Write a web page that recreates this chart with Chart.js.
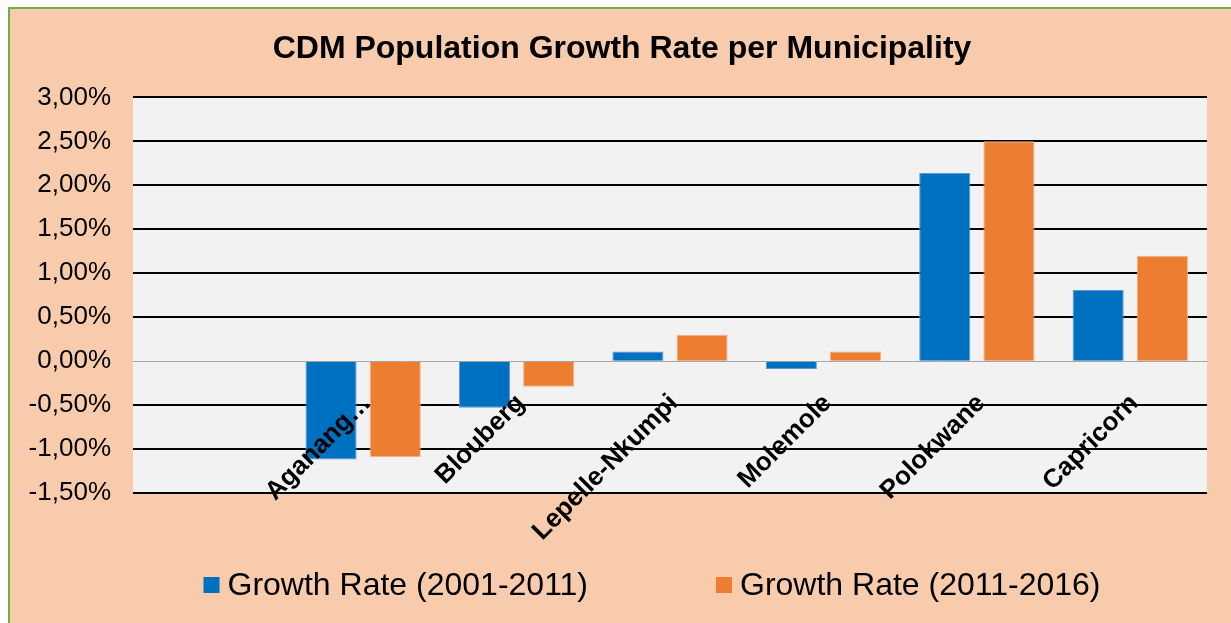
<!DOCTYPE html>
<html>
<head>
<meta charset="utf-8">
<title>CDM Population Growth Rate per Municipality</title>
<script src="https://cdn.jsdelivr.net/npm/chart.js@4.4.1/dist/chart.umd.min.js"></script>
<style>
  html, body { margin: 0; padding: 0; background: #fff; overflow: hidden; }
  #frame {
    position: absolute;
    left: 8px;
    top: 7px;
    width: 1240px;
    height: 630px;
    background: #F8CBAD;
    border-left: 2px solid #70AD47;
    border-top: 2px solid #70AD47;
  }
  #chart { display: block; }
</style>
</head>
<body>
<div id="frame">
  <canvas id="chart" width="1224" height="614"></canvas>
</div>
<script>
// first slot is left blank on purpose, the municipalities start one step in
const municipalities = ['', 'Aganang…', 'Blouberg', 'Lepelle-Nkumpi', 'Molemole', 'Polokwane', 'Capricorn'];
const growth2001to2011 = [null, -1.12, -0.53, 0.11, -0.09, 2.14, 0.81];
const growth2011to2016 = [null, -1.09, -0.29, 0.30, 0.11, 2.50, 1.20];
const seriesNames = ['Growth Rate (2001-2011)', 'Growth Rate (2011-2016)'];

const yMin = -1.5;
const yMax = 3.0;
const yStep = 0.5;

const FONT = '"Liberation Sans", Arial, sans-serif';

// light grey plot area behind the bars
const plotBackground = {
  id: 'plotBackground',
  beforeDraw(chart) {
    const { ctx, chartArea: a } = chart;
    ctx.save();
    ctx.fillStyle = '#F2F2F2';
    ctx.fillRect(a.left, a.top, a.right - a.left, a.bottom - a.top);
    ctx.restore();
  }
};

// the title is centred on the whole frame, not on the padded area
const titleNudge = {
  id: 'titleNudge',
  afterLayout(chart) {
    const t = chart.titleBlock;
    if (t) {
      t.left += 4;
      t.right += 4;
    }
  }
};

// municipality names sit on the zero line, slanted at 45 degrees
const categoryLabels = {
  id: 'categoryLabels',
  afterDatasetsDraw(chart) {
    const { ctx, scales: { x, y } } = chart;
    const zero = y.getPixelForValue(0);
    ctx.save();
    ctx.font = 'bold 26px ' + FONT;
    ctx.fillStyle = '#000';
    ctx.textAlign = 'right';
    ctx.textBaseline = 'middle';
    chart.data.labels.forEach((label, i) => {
      if (!label) return;
      ctx.save();
      ctx.translate(x.getPixelForValue(i) + 4, zero + 38);
      ctx.rotate(-Math.PI / 4);
      ctx.fillText(label, 0, 0);
      ctx.restore();
    });
    ctx.restore();
  }
};

// legend row under the chart, wide gap between the two entries
const bottomLegend = {
  id: 'bottomLegend',
  afterDraw(chart) {
    const { ctx } = chart;
    const box = 16, gap = 8, spacing = 128;
    const cy = 576;
    ctx.save();
    ctx.font = '32px ' + FONT;
    ctx.textBaseline = 'middle';
    ctx.textAlign = 'left';
    const items = chart.data.datasets.map(ds => ({
      text: ds.label,
      color: ds.backgroundColor,
      w: ctx.measureText(ds.label).width
    }));
    const total = items.reduce((s, it) => s + box + gap + it.w, 0) + spacing * (items.length - 1);
    let cx = chart.width / 2 + 30 - total / 2;
    items.forEach(it => {
      ctx.fillStyle = it.color;
      ctx.fillRect(cx, cy - box / 2, box, box);
      ctx.fillStyle = '#000';
      ctx.fillText(it.text, cx + box + gap, cy + 1);
      cx += box + gap + it.w + spacing;
    });
    ctx.restore();
  }
};

const ctx = document.getElementById('chart').getContext('2d');

new Chart(ctx, {
  type: 'bar',
  data: {
    labels: municipalities,
    datasets: [
      {
        label: seriesNames[0],
        data: growth2001to2011,
        backgroundColor: '#0070C0',
        borderColor: '#5B9BD5',
        borderWidth: 1
      },
      {
        label: seriesNames[1],
        data: growth2011to2016,
        backgroundColor: '#ED7D31',
        borderColor: '#F4B183',
        borderWidth: 1
      }
    ]
  },
  options: {
    responsive: false,
    animation: false,
    categoryPercentage: 0.837,
    barPercentage: 0.796,
    layout: {
      padding: { left: 19, right: 27, top: 0, bottom: 130 }
    },
    scales: {
      x: {
        display: false
      },
      y: {
        min: yMin,
        max: yMax,
        afterFit: scale => { scale.width = 104; },
        border: { display: false },
        grid: {
          drawTicks: false,
          color: c => (c.tick && c.tick.value === 0 ? '#A6A6A6' : '#000'),
          lineWidth: c => (c.tick && c.tick.value === 0 ? 1 : 2)
        },
        ticks: {
          stepSize: yStep,
          padding: 22,
          color: '#000',
          font: { family: FONT, size: 26 },
          callback: v => v.toFixed(2).replace('.', ',') + '%'
        }
      }
    },
    plugins: {
      legend: { display: false },
      tooltip: { enabled: false },
      title: {
        display: true,
        text: 'CDM Population Growth Rate per Municipality',
        color: '#000',
        font: { family: FONT, size: 32, weight: 'bold' },
        padding: { top: 21, bottom: 29 }
      }
    }
  },
  plugins: [plotBackground, titleNudge, categoryLabels, bottomLegend]
});
</script>
</body>
</html>
